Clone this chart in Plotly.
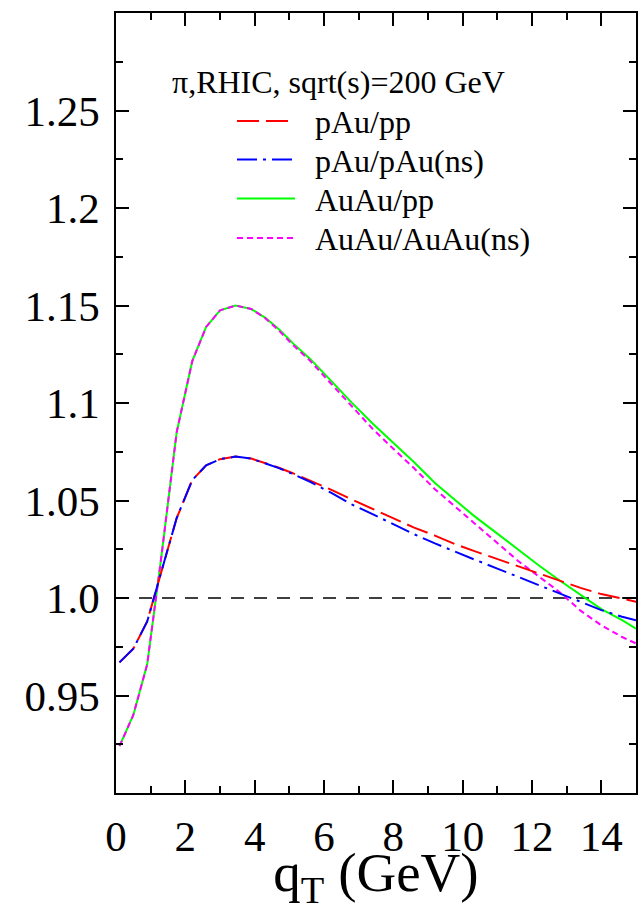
import plotly.graph_objects as go

# ---- data ----
qt = [0.1, 0.5, 0.9, 1.3, 1.75, 2.2, 2.6, 3.0, 3.45, 3.9, 4.3, 4.7, 5.1, 5.6, 6.2, 6.8,
      7.4, 8.0, 8.6, 9.2, 9.8, 10.3, 11.0, 11.6, 12.2, 12.8, 13.4, 14.0, 14.6, 15.0]

pau_pp = [0.967, 0.974, 0.988, 1.013, 1.041, 1.0605, 1.068, 1.0712, 1.0725, 1.0715, 1.0692,
          1.0668, 1.0640, 1.0603, 1.0556, 1.0505, 1.0456, 1.0408, 1.0361, 1.0320, 1.0275,
          1.0243, 1.0200, 1.0163, 1.0125, 1.0088, 1.0052, 1.0020, 0.9997, 0.9981]
pau_pau_ns = [0.967, 0.974, 0.988, 1.013, 1.041, 1.0605, 1.068, 1.0712, 1.0725, 1.0715, 1.0692,
              1.0666, 1.0636, 1.0596, 1.0540, 1.0480, 1.0430, 1.0378, 1.0327, 1.0280, 1.0235,
              1.0200, 1.0151, 1.0108, 1.0066, 1.0023, 0.9981, 0.9938, 0.9904, 0.9886]
auau_pp = [0.924, 0.940, 0.966, 1.020, 1.085, 1.1215, 1.1390, 1.1475, 1.1500, 1.1482, 1.1438,
           1.1378, 1.1307, 1.1226, 1.1115, 1.1002, 1.0895, 1.0795, 1.0696, 1.0590, 1.0499,
           1.0425, 1.0330, 1.0248, 1.0167, 1.0090, 1.0015, 0.9943, 0.9886, 0.9843]
auau_auau_ns = [0.924, 0.940, 0.966, 1.020, 1.085, 1.1215, 1.1390, 1.1475, 1.1500, 1.1482, 1.1436,
                1.1372, 1.1298, 1.1216, 1.1100, 1.0983, 1.0868, 1.0765, 1.0665, 1.0558, 1.0465,
                1.0388, 1.0280, 1.0190, 1.0110, 1.0030, 0.9935, 0.9860, 0.9800, 0.9767]

series_names = ["pAu/pp", "pAu/pAu(ns)", "AuAu/pp", "AuAu/AuAu(ns)"]
series_vals = [pau_pp, pau_pau_ns, auau_pp, auau_auau_ns]
series_colors = ["#ff0000", "#0000ff", "#00ff00", "#ff00ff"]
series_dash = ["22px,7px", "20px,6px,3px,6px", "solid", "6px,4px"]

y_tickvals = [0.95, 1.0, 1.05, 1.1, 1.15, 1.2, 1.25]
y_ticktext = ["0.95", "1.0", "1.05", "1.1", "1.15", "1.2", "1.25"]
x_tickvals = [0, 2, 4, 6, 8, 10, 12, 14]

FONT = "Liberation Serif"

fig = go.Figure()

# draw in order so green sits under magenta, red under blue
order = [2, 3, 0, 1]
for i in order:
    fig.add_trace(go.Scatter(x=qt, y=series_vals[i], mode="lines", name=series_names[i],
                             line=dict(color=series_colors[i], width=2, dash=series_dash[i]),
                             showlegend=False))

# reference line at 1.0
fig.add_shape(type="line", xref="x", yref="y", x0=0, x1=15, y0=1.0, y1=1.0,
              line=dict(color="black", width=1.4, dash="13px,10px"), layer="below")

# plot geometry (pixels)
L, R, T, B = 116, 636, 13, 793
W, H = 643, 911

def px2paper(px, py):
    return (px - L) / (R - L), (B - py) / (B - T)

# legend header
hx, hy = px2paper(170, 82)
fig.add_annotation(text="π,RHIC, sqrt(s)=200 GeV", xref="paper", yref="paper",
                   x=hx, y=hy, xanchor="left", yanchor="middle", showarrow=False,
                   font=dict(family=FONT, size=32, color="black"))

row_y = [121, 159.5, 198.5, 238]
for k in range(4):
    x0, y0 = px2paper(237, row_y[k])
    x1, _ = px2paper(295, row_y[k])
    fig.add_shape(type="line", xref="paper", yref="paper", x0=x0, x1=x1, y0=y0, y1=y0,
                  line=dict(color=series_colors[k], width=2, dash=series_dash[k]))
    tx, ty = px2paper(313, row_y[k] + 1)
    fig.add_annotation(text=series_names[k], xref="paper", yref="paper",
                       x=tx, y=ty, xanchor="left", yanchor="middle", showarrow=False,
                       font=dict(family=FONT, size=32, color="black"))

axis_common = dict(showline=True, linecolor="black", linewidth=1.5, mirror="allticks",
                   ticks="inside", ticklen=13, tickwidth=1.5, tickcolor="black",
                   showgrid=False, zeroline=False, automargin=False,
                   tickfont=dict(family=FONT, size=43, color="black"))

fig.update_xaxes(range=[0, 15], tickvals=x_tickvals, ticklabelstandoff=5,
                 minor=dict(ticks="inside", ticklen=7, tickmode="linear", tick0=1, dtick=2,
                            tickcolor="black", tickwidth=1.5),
                 title=dict(text="q<sub>T</sub> (GeV)", font=dict(family=FONT, size=55, color="black"),
                            standoff=9),
                 **axis_common)
fig.update_yaxes(range=[0.9, 1.3], tickvals=y_tickvals, ticktext=y_ticktext, ticklabelstandoff=6,
                 minor=dict(ticks="inside", ticklen=7, tickmode="linear", tick0=0.925, dtick=0.05,
                            tickcolor="black", tickwidth=1.5),
                 **axis_common)

fig.update_layout(width=W, height=H, margin=dict(l=L, r=W - R, t=T, b=H - B),
                  plot_bgcolor="white", paper_bgcolor="white", showlegend=False)

fig.write_html("out.html")
